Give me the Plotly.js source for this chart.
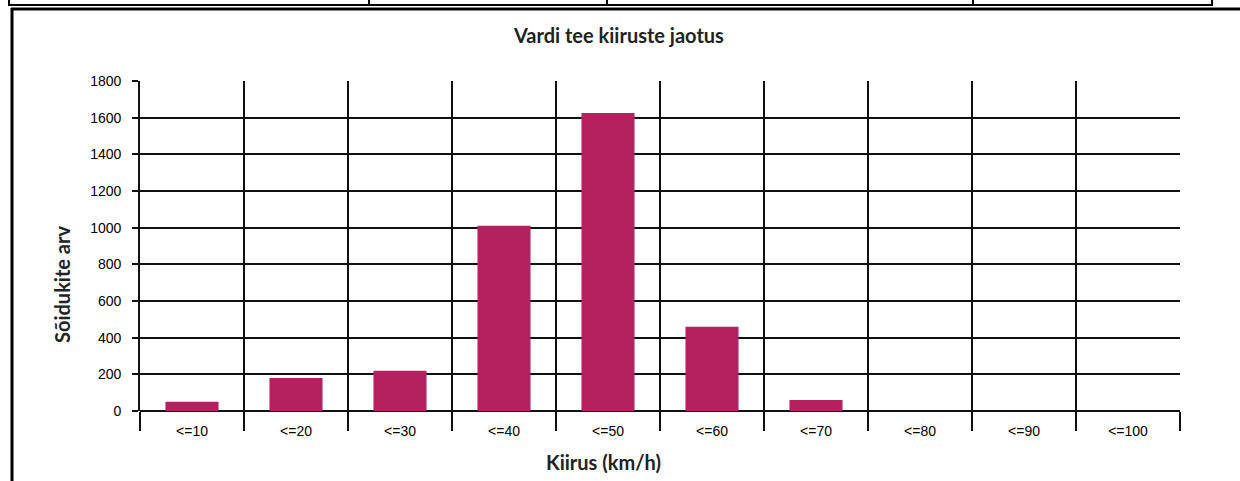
<!DOCTYPE html>
<html>
<head>
<meta charset="utf-8">
<script src="https://cdn.plot.ly/plotly-3.0.1.min.js"></script>
<style>html,body{margin:0;padding:0;background:#fff;}#chart{width:1240px;height:481px;}</style>
</head>
<body>
<div id="chart"></div>
<script>
// Data
const categories = ["<=10", "<=20", "<=30", "<=40", "<=50", "<=60", "<=70", "<=80", "<=90", "<=100"];
const vehicleCounts = [50, 180, 220, 1010, 1625, 460, 60, 0, 0, 0];
const yTickValues = [0, 200, 400, 600, 800, 1000, 1200, 1400, 1600, 1800];

const chartTitle = "Vardi tee kiiruste jaotus";
const xTitle = "Kiirus (km/h)";
const yTitle = "Sõidukite arv";

// Plot geometry (pixels)
const W = 1240, H = 481;
const L = 140, R = 1180, T = 81, B = 411;
const px = x => (x - L) / (R - L);
const py = y => (B - y) / (B - T);

const titleFont = {family: "Lato, 'Open Sans', sans-serif", size: 20, color: "#222", weight: "bold"};
const axisTitleFont = {family: "Lato, 'Open Sans', sans-serif", size: 20, color: "#222", weight: "bold"};
const tickFont = {family: "'Liberation Sans', Arial, sans-serif", size: 14, color: "#000"};
const lineCol = "#111";

const trace = {
  type: "bar",
  x: categories,
  y: vehicleCounts,
  marker: {color: "#B5205E", line: {width: 0}},
  hoverinfo: "x+y"
};

function line(x0, y0, x1, y1, w) {
  return {type: "line", xref: "paper", yref: "paper",
    x0: px(x0), y0: py(y0), x1: px(x1), y1: py(y1),
    line: {color: "#000", width: w}, layer: "above"};
}

const shapes = [
  // table fragment at top
  line(8, 5, 1213, 5, 2),
  line(9, -2, 9, 5, 2),
  line(369, -2, 369, 5, 2),
  line(607, -2, 607, 5, 2),
  line(973, -2, 973, 5, 2),
  line(1212, -2, 1212, 5, 2),
  // outer frame of chart
  line(11, 9, 1242, 9, 3),
  line(12, 8, 12, 483, 3)
];

const layout = {
  width: W, height: H,
  margin: {l: L, r: W - R, t: T, b: H - B, pad: 0},
  paper_bgcolor: "#fff",
  plot_bgcolor: "#fff",
  showlegend: false,
  bargap: 0.49,
  xaxis: {
    type: "category",
    categoryorder: "array",
    categoryarray: categories,
    range: [-0.5, categories.length - 0.5],
    tickson: "boundaries",
    ticks: "outside",
    ticklen: 19,
    tickwidth: 1.8,
    tickcolor: lineCol,
    showgrid: true,
    gridcolor: lineCol,
    gridwidth: 1.8,
    showline: false,
    zeroline: false,
    tickfont: tickFont,
    ticklabelstandoff: 10,
    fixedrange: true
  },
  yaxis: {
    range: [0, 1800],
    tickvals: yTickValues,
    ticks: "outside",
    ticklen: 6,
    tickwidth: 1.8,
    tickcolor: lineCol,
    showgrid: true,
    gridcolor: lineCol,
    gridwidth: 1.8,
    zeroline: true,
    zerolinecolor: lineCol,
    zerolinewidth: 1.8,
    showline: true,
    linecolor: lineCol,
    linewidth: 1.8,
    tickfont: tickFont,
    ticklabelstandoff: 8,
    fixedrange: true
  },
  annotations: [
    {text: chartTitle, xref: "paper", yref: "paper", x: px(618), y: py(35),
     xanchor: "center", yanchor: "middle", showarrow: false, font: titleFont},
    {text: xTitle, xref: "paper", yref: "paper", x: px(603), y: py(462),
     xanchor: "center", yanchor: "middle", showarrow: false, font: axisTitleFont},
    {text: yTitle, xref: "paper", yref: "paper", x: px(62), y: py(285),
     xanchor: "center", yanchor: "middle", textangle: -90, showarrow: false, font: axisTitleFont}
  ],
  shapes: shapes
};

Plotly.newPlot("chart", [trace], layout, {displayModeBar: false, staticPlot: true});
</script>
</body>
</html>
